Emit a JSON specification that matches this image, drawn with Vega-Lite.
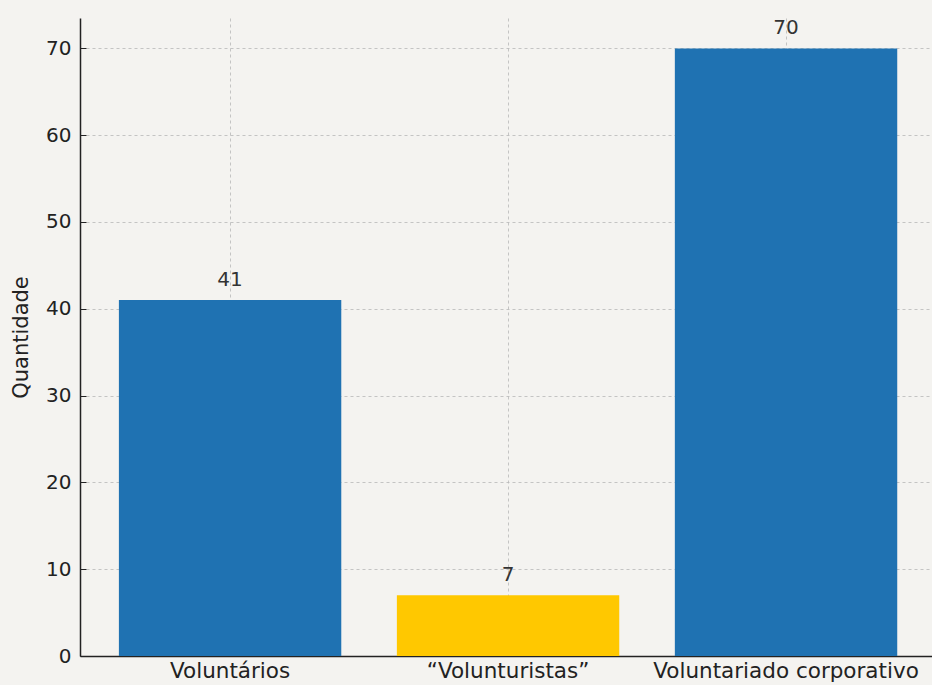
{
  "$schema": "https://vega.github.io/schema/vega-lite/v6.json",
  "autosize": {"type": "none"},
  "width": 852,
  "height": 638,
  "padding": {"left": 80, "top": 18, "right": 0, "bottom": 29},
  "background": "#f4f3f0",
  "config": {
    "view": {"stroke": null},
    "font": "DejaVu Sans",
    "axis": {
      "zindex": 1,
      "domainColor": "#222222",
      "domainWidth": 1.5,
      "tickColor": "#222222",
      "tickSize": -6,
      "labelColor": "#222222",
      "titleColor": "#222222",
      "labelFont": "DejaVu Sans",
      "titleFont": "DejaVu Sans",
      "titleFontWeight": "normal",
      "gridColor": "#b8b8b8",
      "gridDash": [3, 3],
      "gridOpacity": 0.8,
      "gridWidth": 1
    }
  },
  "data": {
    "values": [
      {"categoria": "Voluntários", "quantidade": 41},
      {"categoria": "“Volunturistas”", "quantidade": 7},
      {"categoria": "Voluntariado corporativo", "quantidade": 70}
    ]
  },
  "encoding": {
    "x": {
      "field": "categoria",
      "type": "nominal",
      "sort": null,
      "scale": {"paddingInner": 0.2, "paddingOuter": 0.1325, "align": 0.528},
      "axis": {
        "title": null,
        "labelAngle": 0,
        "labelFontSize": 21.5,
        "labelPadding": 10,
        "labelLimit": 0,
        "labelOverlap": false,
        "grid": true,
        "bandPosition": 0.5
      }
    },
    "y": {
      "field": "quantidade",
      "type": "quantitative",
      "scale": {"domain": [0, 73.5], "nice": false},
      "axis": {
        "title": "Quantidade",
        "values": [0, 10, 20, 30, 40, 50, 60, 70],
        "labelFontSize": 20,
        "labelPadding": 15,
        "titleFontSize": 21,
        "titlePadding": 14,
        "grid": true
      }
    }
  },
  "layer": [
    {
      "mark": {"type": "bar"},
      "encoding": {
        "color": {
          "field": "categoria",
          "type": "nominal",
          "scale": {
            "domain": ["Voluntários", "“Volunturistas”", "Voluntariado corporativo"],
            "range": ["#1f72b2", "#ffc800", "#1f72b2"]
          },
          "legend": null
        }
      }
    },
    {
      "mark": {"type": "text", "baseline": "alphabetic", "dy": -14, "fontSize": 20, "color": "#333333", "font": "DejaVu Sans"},
      "encoding": {"text": {"field": "quantidade", "type": "quantitative"}}
    }
  ]
}
